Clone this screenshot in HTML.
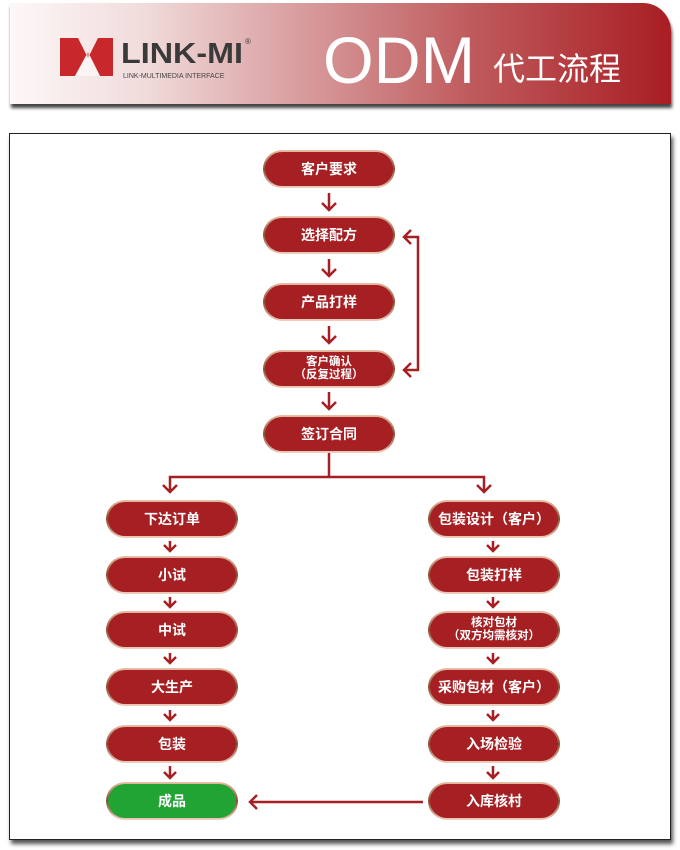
<!DOCTYPE html>
<html><head><meta charset="utf-8"><style>
body{margin:0;width:680px;height:850px;background:#fff;position:relative;overflow:hidden;font-family:"Liberation Sans","Noto Sans CJK SC",sans-serif}
.hdr{position:absolute;left:10px;top:3px;width:661px;height:101px;border-top-right-radius:28px;background:linear-gradient(90deg,#fdf8f8 0%,#f1dcdc 20%,#d79a9b 45%,#bf5a5c 70%,#a81e23 100%);box-shadow:1px 4px 3px #444}
.frame{position:absolute;left:9px;top:133px;width:660px;height:705px;border:1.5px solid #222;box-shadow:2px 4px 4px #555;background:#fff}
.p{position:absolute;width:132px;height:38px;border-radius:19px;background:linear-gradient(180deg,#e8c0a8,#8a4a30 50%,#f0d0c0);padding:0;box-sizing:border-box}
.p div{position:absolute;left:2px;top:2px;right:2px;bottom:2px;border-radius:17px;background:#a61f23;color:#fff;font-size:14px;font-weight:bold;display:flex;align-items:center;justify-content:center;text-align:center;line-height:14px}
.p.g div{background:#22a434}
.p div.s{font-size:11.5px;line-height:13px}
svg{position:absolute;left:0;top:0}
</style></head><body>
<div class="hdr"></div>
<svg width="680" height="120">
<polygon points="60,38 78,38 88,58 98,38 113,38 113,76 100,76 88,52 75,76 60,76" fill="#c8282c"/>
<polygon points="75,76 88,52 100,76" fill="#fff" opacity="0.5"/>
<text x="121" y="63" font-family="Liberation Sans" font-weight="bold" font-size="29" fill="#3a3a3a" textLength="122" lengthAdjust="spacingAndGlyphs">LINK-MI</text>
<text x="245" y="44" font-size="8" fill="#3a3a3a">®</text>
<text x="123" y="78" font-size="7" fill="#444">LINK-MULTIMEDIA INTERFACE</text>
<text x="323" y="83" font-family="Liberation Sans" font-size="66" fill="#fff" textLength="152" lengthAdjust="spacingAndGlyphs">ODM</text>
<text x="493" y="80" font-family="Noto Sans CJK SC" font-size="32" fill="#fff">代工流程</text>
</svg>
<div class="frame"></div>
<svg width="680" height="850" fill="none" stroke="#a61f23" stroke-width="2.5">
<g>
<path d="M329,193v17M322,203l7,7l7,-7"/>
<path d="M329,259v17M322,269l7,7l7,-7"/>
<path d="M329,326v17M322,336l7,7l7,-7"/>
<path d="M329,392v17M322,402l7,7l7,-7"/>
<path d="M404,237h14v133h-14M411,230l-7,7l7,7M411,363l-7,7l7,7"/>
<path d="M329,453v24M170,492v-15h314v15M163,485l7,7l7,-7M477,485l7,7l7,-7"/>
<path d="M170,541v10M164,545l6,6l6,-6M170,597v10M164,601l6,6l6,-6M170,653v10M164,657l6,6l6,-6M170,710v10M164,714l6,6l6,-6M170,766v12M164,772l6,6l6,-6"/>
<path d="M493,541v10M487,545l6,6l6,-6M493,597v10M487,601l6,6l6,-6M493,653v10M487,657l6,6l6,-6M493,710v10M487,714l6,6l6,-6M493,766v12M487,772l6,6l6,-6"/>
<path d="M423,802h-173M257,795l-7,7l7,7"/>
</g></svg>
<div class="p" style="left:263px;top:150px"><div>客户要求</div></div>
<div class="p" style="left:263px;top:216px"><div>选择配方</div></div>
<div class="p" style="left:263px;top:283px"><div>产品打样</div></div>
<div class="p" style="left:263px;top:350px"><div class="s">客户确认<br>（反复过程）</div></div>
<div class="p" style="left:263px;top:415px"><div>签订合同</div></div>
<div class="p" style="left:106px;top:500px"><div>下达订单</div></div>
<div class="p" style="left:106px;top:556px"><div>小试</div></div>
<div class="p" style="left:106px;top:611px"><div>中试</div></div>
<div class="p" style="left:106px;top:668px"><div>大生产</div></div>
<div class="p" style="left:106px;top:725px"><div>包装</div></div>
<div class="p g" style="left:106px;top:782px"><div>成品</div></div>
<div class="p" style="left:428px;top:500px"><div>包装设计（客户）</div></div>
<div class="p" style="left:428px;top:556px"><div>包装打样</div></div>
<div class="p" style="left:428px;top:611px"><div class="s">核对包材<br>（双方均需核对）</div></div>
<div class="p" style="left:428px;top:668px"><div>采购包材（客户）</div></div>
<div class="p" style="left:428px;top:725px"><div>入场检验</div></div>
<div class="p" style="left:428px;top:782px"><div>入库核村</div></div>
</body></html>
